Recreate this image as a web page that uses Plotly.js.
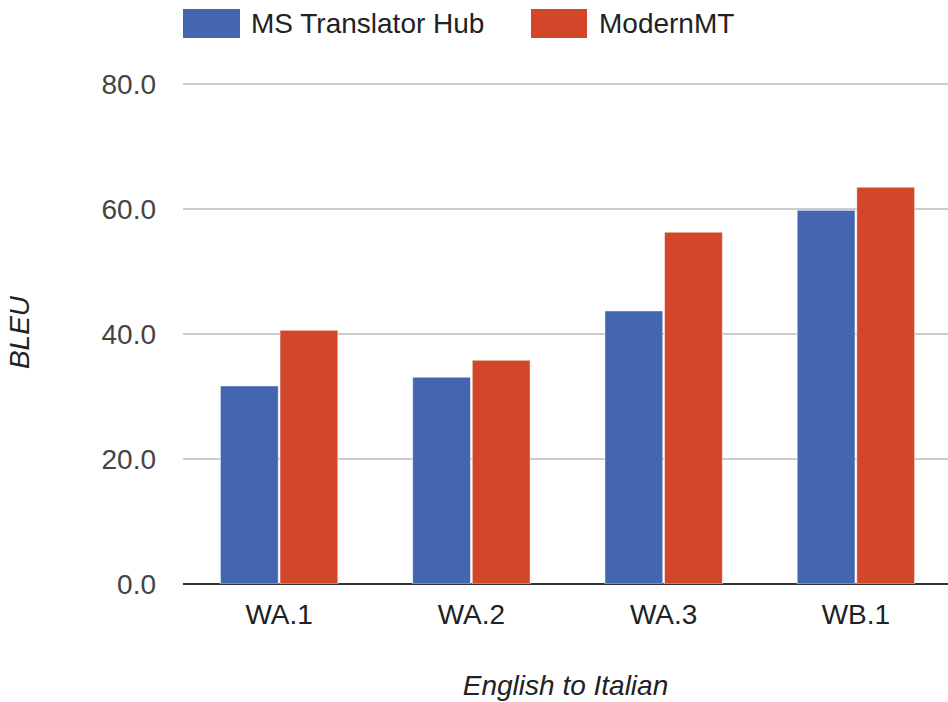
<!DOCTYPE html>
<html>
<head>
<meta charset="utf-8">
<script src="https://cdn.plot.ly/plotly-3.0.1.min.js"></script>
<style>html,body{margin:0;padding:0;background:#fff;}#chart{width:948px;height:702px;}</style>
</head>
<body>
<div id="chart"></div>
<script>
const categories = ["WA.1", "WA.2", "WA.3", "WB.1"];
const seriesNames = ["MS Translator Hub", "ModernMT"];
const msTranslatorHub = [31.7, 33.1, 43.7, 59.8];
const modernMT = [40.6, 35.8, 56.3, 63.5];
const yTicks = [0, 20, 40, 60, 80];
const xTitle = "English to Italian";
const yTitle = "BLEU";

const colors = ["#4466B0", "#D2472A"];
const W = 948, H = 702;
const M = {l: 183, r: 0, t: 81, b: 118};
const pw = W - M.l - M.r, ph = H - M.t - M.b;
const px = x => (x - M.l) / pw;
const py = y => (H - M.b - y) / ph;

const font = "Liberation Sans, Arial, Helvetica, sans-serif";

const traces = [
  {type: "bar", name: seriesNames[0], x: categories, y: msTranslatorHub,
   marker: {color: colors[0], line: {color: "rgba(255,255,255,0.5)", width: 1}}, showlegend: false},
  {type: "bar", name: seriesNames[1], x: categories, y: modernMT,
   marker: {color: colors[1], line: {color: "rgba(255,255,255,0.5)", width: 1}}, showlegend: false}
];

// custom legend (large swatches like the reference)
const legendItems = [
  {sx0: 183, sx1: 240, tx: 249},
  {sx0: 531, sx1: 587, tx: 597}
];
const shapes = legendItems.map((it, i) => ({
  type: "rect", xref: "paper", yref: "paper",
  x0: px(it.sx0), x1: px(it.sx1), y0: py(38), y1: py(9),
  fillcolor: colors[i], line: {width: 0}
}));
const annotations = legendItems.map((it, i) => ({
  xref: "paper", yref: "paper", x: px(it.tx), y: py(23),
  xanchor: "left", yanchor: "middle", showarrow: false,
  text: seriesNames[i], font: {family: font, size: 28, color: "#222"}
}));

const layout = {
  width: W, height: H,
  margin: M,
  paper_bgcolor: "#fff", plot_bgcolor: "#fff",
  barmode: "group", bargap: 0.38, bargroupgap: 0.03,
  showlegend: false,
  font: {family: font, size: 28, color: "#444"},
  xaxis: {
    type: "category", range: [-0.5, 3.479], fixedrange: true,
    showgrid: false, zeroline: false, showline: false,
    ticks: "", ticklabelstandoff: 11,
    tickfont: {family: font, size: 28, color: "#222"},
    title: {text: xTitle, standoff: 46, font: {family: font, size: 28, color: "#222", style: "italic"}},
    automargin: false
  },
  yaxis: {
    range: [0, 80.5], tickvals: yTicks, tickformat: ".1f",
    showgrid: true, gridcolor: "#cccccc", gridwidth: 1.5,
    zeroline: true, zerolinecolor: "#333333", zerolinewidth: 1.5,
    showline: false, ticks: "", ticklabelstandoff: 26,
    tickfont: {family: font, size: 28, color: "#444"},
    title: {text: yTitle, standoff: 63, font: {family: font, size: 28, color: "#222", style: "italic"}},
    automargin: false
  },
  shapes: shapes,
  annotations: annotations
};

Plotly.newPlot("chart", traces, layout, {displayModeBar: false, staticPlot: true});
</script>
</body>
</html>
